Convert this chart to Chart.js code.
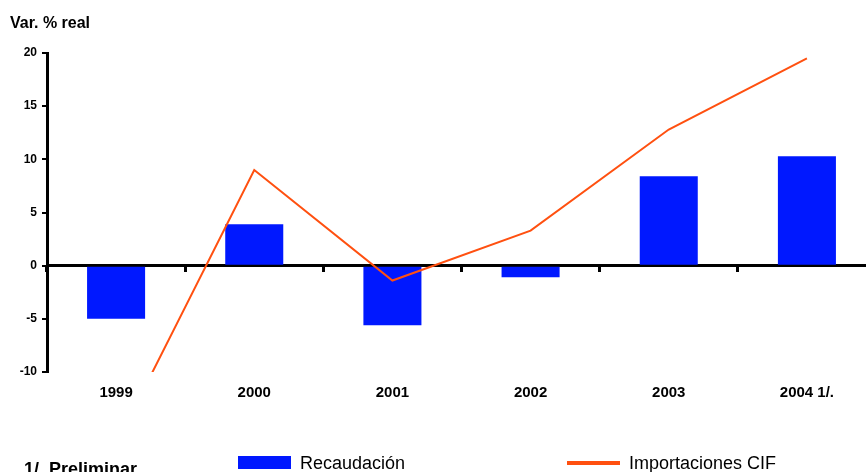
<!DOCTYPE html>
<html>
<head>
<meta charset="utf-8">
<script src="https://cdn.jsdelivr.net/npm/chart.js@4.4.1/dist/chart.umd.min.js"></script>
<style>
  html, body { margin: 0; padding: 0; background: #fff; overflow: hidden; }
  #wrap { width: 876px; height: 472px; }
</style>
</head>
<body>
<div id="wrap"><canvas id="chart" width="876" height="472"></canvas></div>
<script>
const years = ["1999", "2000", "2001", "2002", "2003", "2004 1/."];
const recaudacion = [-5.0, 3.9, -5.6, -1.1, 8.4, 10.3];
const importaciones = [-16.8, 9.0, -1.4, 3.3, 12.8, 19.5];
const yTicks = [-10, -5, 0, 5, 10, 15, 20];

const BLUE = "#0018ff";
const ORANGE = "#ff5010";
const FONT = "'Liberation Sans', Arial, sans-serif";

// title, footnote and the bottom legend
const decorations = {
    id: "decorations",
    afterDraw(chart) {
        const ctx = chart.ctx;
        const sets = chart.data.datasets;
        ctx.save();
        ctx.fillStyle = "#000";
        ctx.textAlign = "left";
        ctx.textBaseline = "alphabetic";
        ctx.font = "bold 16px " + FONT;
        ctx.fillText("Var. % real", 10, 28);
        ctx.font = "bold 18px " + FONT;
        ctx.fillText("1/. Preliminar", 24, 475);

        // Recaudación
        ctx.fillStyle = sets[1].backgroundColor;
        ctx.fillRect(238, 456, 53, 13);
        ctx.fillStyle = "#000";
        ctx.font = "18px " + FONT;
        ctx.fillText(sets[1].label, 300, 469);

        // Importaciones CIF
        ctx.strokeStyle = sets[0].borderColor;
        ctx.lineWidth = 4;
        ctx.beginPath();
        ctx.moveTo(567, 463);
        ctx.lineTo(620, 463);
        ctx.stroke();
        ctx.fillText(sets[0].label, 629, 469);
        ctx.restore();
    }
};

new Chart(document.getElementById("chart"), {
    data: {
        labels: years,
        datasets: [
            {
                type: "line",
                label: "Importaciones CIF",
                data: importaciones,
                borderColor: ORANGE,
                backgroundColor: ORANGE,
                borderWidth: 2,
                pointRadius: 0,
                tension: 0,
                order: 0
            },
            {
                type: "bar",
                label: "Recaudación",
                data: recaudacion,
                backgroundColor: BLUE,
                borderWidth: 0,
                categoryPercentage: 1,
                barPercentage: 0.42,
                order: 1
            }
        ]
    },
    options: {
        responsive: false,
        animation: false,
        layout: { padding: { top: 53, right: 0, bottom: 0, left: 0 } },
        plugins: { legend: { display: false }, tooltip: { enabled: false } },
        scales: {
            x: {
                type: "category",
                offset: true,
                grid: { display: false, drawTicks: false },
                border: { display: false },
                ticks: { color: "#000", font: { family: FONT, size: 15, weight: "bold" }, padding: 12, maxRotation: 0 },
                afterFit(scale) { scale.height = 100; }
            },
            // axis line drawn through zero, with marks between the years
            x2: {
                type: "category",
                position: { y: 0 },
                offset: true,
                grid: { offset: true, drawOnChartArea: false, drawTicks: true, tickLength: 5, lineWidth: 3, color: "#000" },
                border: { display: true, width: 3, color: "#000" },
                ticks: { display: false }
            },
            y: {
                min: -10,
                max: 20,
                afterBuildTicks(scale) { scale.ticks = yTicks.map(v => ({ value: v })); },
                grid: { drawOnChartArea: false, drawTicks: true, tickLength: 5, lineWidth: 2, color: "#000" },
                border: { display: true, width: 3, color: "#000" },
                ticks: { color: "#000", font: { family: FONT, size: 12, weight: "bold" }, padding: 5 },
                afterFit(scale) { scale.width = 47; }
            }
        }
    },
    plugins: [decorations]
});
</script>
</body>
</html>
